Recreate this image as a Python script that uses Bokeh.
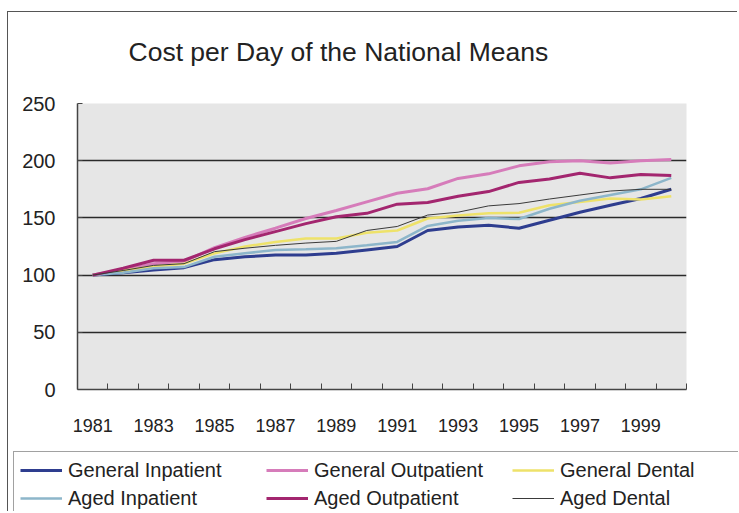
from bokeh.plotting import figure
from bokeh.models import FixedTicker, Legend, LegendItem, Range1d
from bokeh.embed import file_html
from bokeh.resources import INLINE

years = list(range(1981, 2001))
year_labels = [1981, 1983, 1985, 1987, 1989, 1991, 1993, 1995, 1997, 1999]
y_ticks = [0, 50, 100, 150, 200, 250]

general_inpatient = [100, 102, 104.5, 106.5, 113.5, 116, 117.5, 117.5, 119, 122,
                     125, 139, 142, 143.5, 141, 148, 155, 161, 167, 175]
general_outpatient = [100, 104.5, 110, 112, 124, 133, 141, 149.5, 156.5, 164,
                      171.5, 175.5, 184.5, 188.5, 195.5, 199, 200, 198, 200, 201]
general_dental = [100, 104, 107.5, 110, 119, 125, 129, 132, 132, 137,
                  139, 149.5, 152, 154, 154.5, 161, 164, 167, 166, 169]
aged_inpatient = [100, 102, 106, 107, 116, 119, 122, 122.5, 123.5, 126,
                  129, 143, 147.5, 150, 149, 158, 165, 170, 175, 185]
aged_outpatient = [100, 106, 113, 113, 123, 131, 138, 145, 151, 154,
                   162, 163.5, 169, 173, 181, 184, 189, 185, 188, 187]
aged_dental = [100, 104, 108.5, 110, 120.5, 123.5, 126, 128, 129.5, 139,
               142.5, 152.5, 155, 160.5, 162.5, 166.5, 170, 173.5, 175, 175]

series_names = ["General Inpatient", "General Outpatient", "General Dental",
                "Aged Inpatient", "Aged Outpatient", "Aged Dental"]
series_values = [general_inpatient, general_outpatient, general_dental,
                 aged_inpatient, aged_outpatient, aged_dental]
series_colors = ["#2E3D8F", "#D67CBA", "#EEE26A", "#8DB6CA", "#A3266F", "#3A3A3A"]
series_widths = [3, 3, 2.5, 2.5, 3, 1]

FONT = "Liberation Sans"
TEXT = "#222222"

# ---- title strip (separate figure above the chart) ----
tf = figure(width=730, height=80, output_backend="svg", toolbar_location=None,
            x_axis_location=None, y_axis_location=None,
            x_range=Range1d(0, 1), y_range=Range1d(0, 1),
            min_border=0, min_border_left=0, min_border_right=0,
            min_border_top=59, min_border_bottom=0,
            background_fill_color="#FFFFFF", border_fill_color="#FFFFFF",
            styles={"margin-left": "7px", "margin-top": "11px",
                    "border-left": "1px solid #555555",
                    "border-top": "1px solid #555555"})
tf.outline_line_color = None
tf.xgrid.visible = False
tf.ygrid.visible = False
tf.title.text = "Cost per Day of the National Means"
tf.title.text_font = FONT
tf.title.text_font_size = "26.5px"
tf.title.text_font_style = "normal"
tf.title.text_color = TEXT
tf.title.align = "left"
tf.title.offset = 120
tf.title.standoff = 10

# ---- chart ----
p = figure(width=730, height=356, output_backend="svg", toolbar_location=None,
           x_range=Range1d(1980.5, 2000.5), y_range=Range1d(0, 250),
           min_border_left=69, min_border_right=52, min_border_top=12,
           min_border_bottom=58, background_fill_color="#E6E6E6",
           border_fill_color="#FFFFFF",
           styles={"margin-left": "7px", "border-left": "1px solid #555555"})
p.outline_line_color = None

# x axis: labels at odd years, small inward ticks at year boundaries
xa = p.below[0]
xa.ticker = FixedTicker(ticks=year_labels, minor_ticks=[y + 0.5 for y in years])
xa.major_tick_in = 0
xa.major_tick_out = 0
xa.minor_tick_in = 6
xa.minor_tick_out = 0
xa.minor_tick_line_color = "#444444"
xa.axis_line_color = "#444444"
xa.axis_line_width = 1.5
xa.major_label_text_font = FONT
xa.major_label_text_font_size = "18px"
xa.major_label_text_color = TEXT
xa.major_label_standoff = 29

# y axis
ya = p.left[0]
ya.ticker = FixedTicker(ticks=y_ticks)
ya.major_tick_in = 5
ya.major_tick_out = 0
ya.minor_tick_in = 0
ya.minor_tick_out = 0
ya.axis_line_color = "#444444"
ya.axis_line_width = 1.5
ya.major_tick_line_color = "#444444"
ya.major_label_text_font = FONT
ya.major_label_text_font_size = "20px"
ya.major_label_text_color = TEXT
ya.major_label_standoff = 22

p.xgrid.visible = False
p.ygrid.ticker = FixedTicker(ticks=[50, 100, 150, 200])
p.ygrid.grid_line_color = "#2A2A2A"
p.ygrid.grid_line_width = 1.5

# ---- legend strip: its own copies of the series lie outside its ranges ----
lg = figure(width=730, height=64, output_backend="svg", toolbar_location=None,
            x_axis_location=None, y_axis_location=None,
            x_range=Range1d(0, 1), y_range=Range1d(0, 1),
            min_border=0, min_border_left=0, min_border_right=0,
            min_border_top=0, min_border_bottom=0,
            background_fill_color="#FFFFFF", border_fill_color="#FFFFFF",
            styles={"margin-left": "7px", "border-left": "1px solid #555555"})
lg.outline_line_color = None
lg.xgrid.visible = False
lg.ygrid.visible = False

items = []
for name, vals, col, w in zip(series_names, series_values, series_colors, series_widths):
    p.line(years, vals, line_color=col, line_width=w)
    r = lg.line(years, vals, line_color=col, line_width=w)
    items.append(LegendItem(label=name, renderers=[r]))

legend = Legend(items=items, location=(5, -6), orientation="horizontal", ncols=3,
                glyph_width=42, glyph_height=24, label_height=24, label_width=194,
                label_standoff=6, spacing=4, padding=6, margin=0,
                border_line_color="#444444", border_line_width=1,
                background_fill_color="#FFFFFF", background_fill_alpha=1,
                label_text_font=FONT, label_text_font_size="20px",
                label_text_color=TEXT)
lg.add_layout(legend)

open("out.html", "w").write(file_html([tf, p, lg], INLINE))
